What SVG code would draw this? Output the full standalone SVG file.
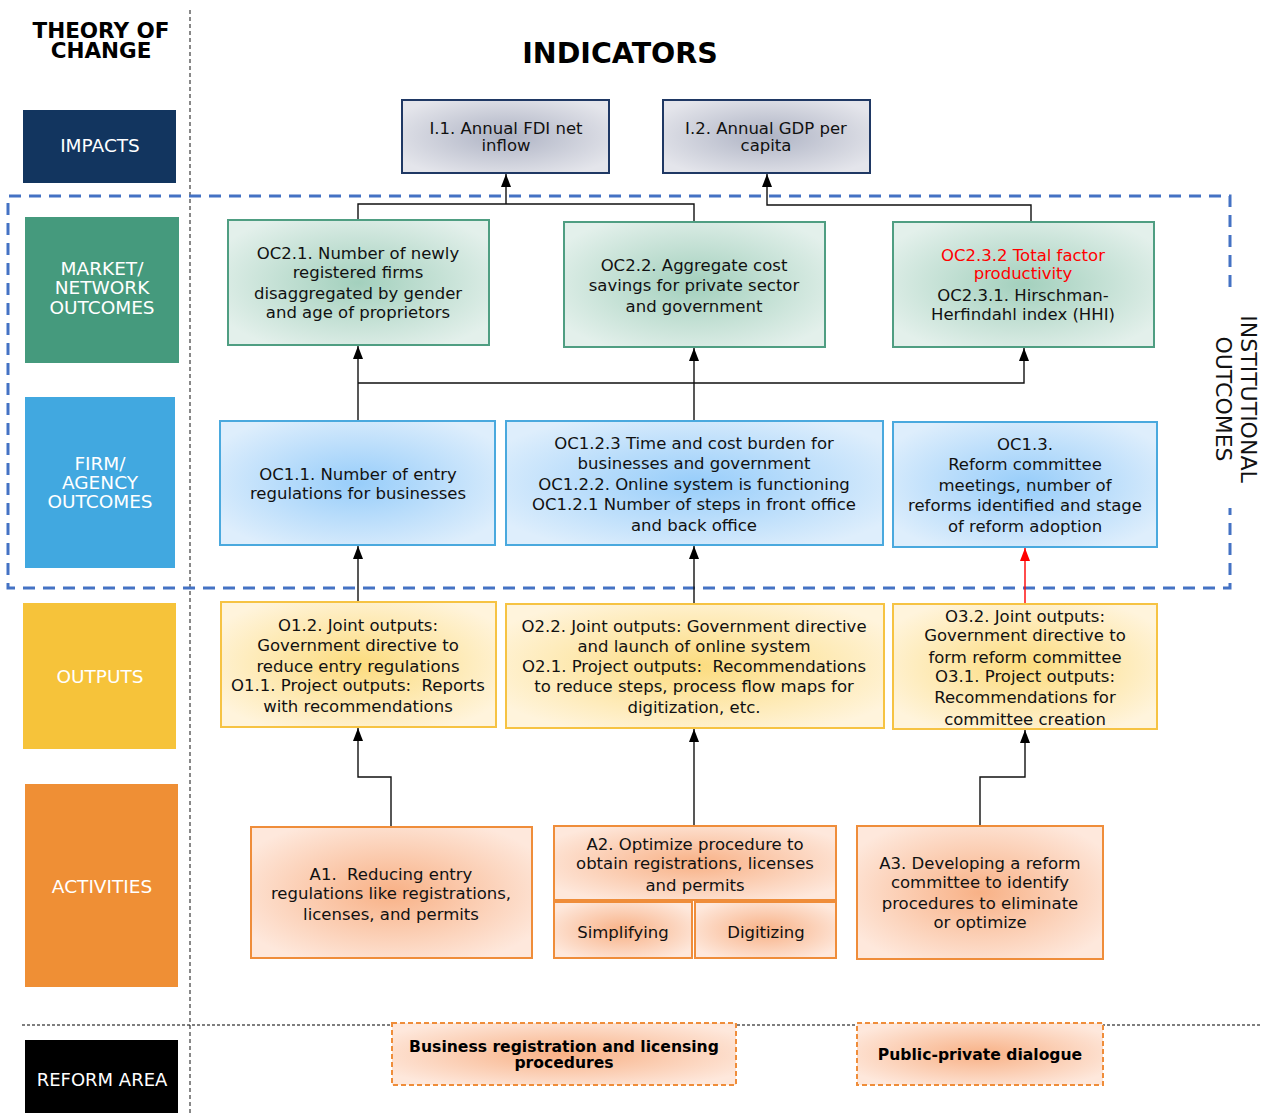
<svg xmlns="http://www.w3.org/2000/svg" width="1261" height="1113" viewBox="0 0 1261 1113">
  <style>
    .t { font-family: "DejaVu Sans", "Open Sans", sans-serif; font-size: 16.5px; fill: #111; text-anchor: middle; }
    .red { fill: #ff0000; }
    .side { font-family: "DejaVu Sans", "Open Sans", sans-serif; font-size: 22px; fill: #111; text-anchor: middle; }
    .lab { font-family: "DejaVu Sans", "Open Sans", sans-serif; font-size: 18.5px; fill: #fff; text-anchor: middle; }
    .hd { font-family: "DejaVu Sans", sans-serif; font-weight: bold; fill: #000; text-anchor: middle; }
    .ra { font-family: "DejaVu Sans", sans-serif; font-weight: bold; font-size: 15.6px; fill: #000; text-anchor: middle; }
    .gray { fill: url(#gGray); stroke: #1f3864; stroke-width: 2; }
    .green { fill: url(#gGreen); stroke: #4f9e82; stroke-width: 2; }
    .blue { fill: url(#gBlue); stroke: #4aa9de; stroke-width: 2; }
    .yellow { fill: url(#gYellow); stroke: #f6c343; stroke-width: 2; }
    .orange { fill: url(#gOrange); stroke: #ef8d3a; stroke-width: 2; }
    .orangeDash { fill: url(#gOrange); stroke: #ef8d3a; stroke-width: 2; stroke-dasharray: 5 3; }
    .conn { fill: none; stroke: #111; stroke-width: 1.4; }
  </style>
  <defs>
    <radialGradient id="gGray" cx="0.5" cy="0.5" r="0.6">
      <stop offset="0" stop-color="#aeb3c4"/>
      <stop offset="1" stop-color="#e4e5eb"/>
    </radialGradient>
    <radialGradient id="gGreen" cx="0.5" cy="0.5" r="0.6">
      <stop offset="0" stop-color="#a3d0bd"/>
      <stop offset="1" stop-color="#e3f0eb"/>
    </radialGradient>
    <radialGradient id="gBlue" cx="0.5" cy="0.5" r="0.6">
      <stop offset="0" stop-color="#97cdfa"/>
      <stop offset="1" stop-color="#deeefc"/>
    </radialGradient>
    <radialGradient id="gYellow" cx="0.5" cy="0.5" r="0.6">
      <stop offset="0" stop-color="#fcdc7e"/>
      <stop offset="1" stop-color="#fff4dc"/>
    </radialGradient>
    <radialGradient id="gOrange" cx="0.5" cy="0.5" r="0.6">
      <stop offset="0" stop-color="#f8b186"/>
      <stop offset="1" stop-color="#fee8dc"/>
    </radialGradient>
    <marker id="arr" viewBox="0 0 13 10" markerWidth="13" markerHeight="10" refX="13" refY="5" orient="auto" markerUnits="userSpaceOnUse">
      <path d="M0,0 L13,5 L0,10 z" fill="#000"/>
    </marker>
    <marker id="arrRed" viewBox="0 0 13 10" markerWidth="13" markerHeight="10" refX="13" refY="5" orient="auto" markerUnits="userSpaceOnUse">
      <path d="M0,0 L13,5 L0,10 z" fill="#ff0000"/>
    </marker>
  </defs>

  <rect width="1261" height="1113" fill="#fff"/>

  <!-- headings -->
  <text class="hd" font-size="21.5"><tspan x="101" y="38">THEORY OF</tspan><tspan x="101" y="58">CHANGE</tspan></text>
  <text class="hd" font-size="28.5" x="620" y="63">INDICATORS</text>

  <!-- separators -->
  <line x1="190" y1="10" x2="190" y2="1113" stroke="#888" stroke-width="2" stroke-dasharray="4 3"/>
  <line x1="22" y1="1025" x2="1261" y2="1025" stroke="#000" stroke-width="1.2" stroke-dasharray="3 2"/>

  <!-- institutional outcomes frame (open on the right for its label) -->
  <path d="M1230,287 L1230,196 L8,196 L8,588 L1230,588 L1230,508" fill="none" stroke="#4472c4" stroke-width="3" stroke-dasharray="12 8"/>
  <g id="institutional-label">
    <text class="side" transform="translate(1241,399) rotate(90)" x="0" y="0">INSTITUTIONAL</text>
    <text class="side" transform="translate(1216,399) rotate(90)" x="0" y="0">OUTCOMES</text>
  </g>

  <!-- level labels -->
  <g id="level-impacts">
    <rect x="23" y="110" width="153" height="73" fill="#12355f"/>
    <text class="lab" x="100" y="152">IMPACTS</text>
  </g>
  <g id="level-market">
    <rect x="25" y="217" width="154" height="146" fill="#459a7d"/>
    <text class="lab" x="102" y="275">MARKET/</text>
    <text class="lab" x="102" y="294">NETWORK</text>
    <text class="lab" x="102" y="314">OUTCOMES</text>
  </g>
  <g id="level-firm">
    <rect x="25" y="397" width="150" height="171" fill="#41a8e0"/>
    <text class="lab" x="100" y="470">FIRM/</text>
    <text class="lab" x="100" y="489">AGENCY</text>
    <text class="lab" x="100" y="508">OUTCOMES</text>
  </g>
  <g id="level-outputs">
    <rect x="23" y="603" width="153" height="146" fill="#f6c33a"/>
    <text class="lab" x="100" y="683">OUTPUTS</text>
  </g>
  <g id="level-activities">
    <rect x="25" y="784" width="153" height="203" fill="#ef8f35"/>
    <text class="lab" x="102" y="893">ACTIVITIES</text>
  </g>
  <g id="level-reform">
    <rect x="25" y="1040" width="153" height="73" fill="#000"/>
    <text class="lab" style="font-size:18px" x="102" y="1086">REFORM AREA</text>
  </g>

  <!-- connectors -->
  <g id="connectors">
    <path class="conn" d="M358,220 L358,204 L694,204 L694,222"/>
    <path class="conn" d="M506,204 L506,174" marker-end="url(#arr)"/>
    <path class="conn" d="M1031,222 L1031,205 L767,205 L767,174" marker-end="url(#arr)"/>
    <path class="conn" d="M358,421 L358,346" marker-end="url(#arr)"/>
    <path class="conn" d="M694,421 L694,348" marker-end="url(#arr)"/>
    <path class="conn" d="M358,383 L1024,383 L1024,348" marker-end="url(#arr)"/>
    <path class="conn" d="M358,602 L358,546" marker-end="url(#arr)"/>
    <path class="conn" d="M694,604 L694,546" marker-end="url(#arr)"/>
    <path fill="none" stroke="#ff0000" stroke-width="1.4" d="M1025,604 L1025,548" marker-end="url(#arrRed)"/>
    <path class="conn" d="M391,827 L391,777 L358,777 L358,728" marker-end="url(#arr)"/>
    <path class="conn" d="M694,826 L694,729" marker-end="url(#arr)"/>
    <path class="conn" d="M980,826 L980,777 L1025,777 L1025,730" marker-end="url(#arr)"/>
  </g>

  <!-- impacts -->
  <g id="I1">
    <rect class="gray" x="402" y="100" width="207" height="73"/>
    <text class="t" x="506" y="134">I.1. Annual FDI net</text>
    <text class="t" x="506" y="151">inflow</text>
  </g>
  <g id="I2">
    <rect class="gray" x="663" y="100" width="207" height="73"/>
    <text class="t" x="766" y="134">I.2. Annual GDP per</text>
    <text class="t" x="766" y="151">capita</text>
  </g>

  <!-- market / network outcomes -->
  <g id="OC2-1">
    <rect class="green" x="228" y="220" width="261" height="125"/>
    <text class="t" x="358" y="259">OC2.1. Number of newly</text>
    <text class="t" x="358" y="278">registered firms</text>
    <text class="t" x="358" y="299">disaggregated by gender</text>
    <text class="t" x="358" y="318">and age of proprietors</text>
  </g>
  <g id="OC2-2">
    <rect class="green" x="564" y="222" width="261" height="125"/>
    <text class="t" x="694" y="271">OC2.2. Aggregate cost</text>
    <text class="t" x="694" y="291">savings for private sector</text>
    <text class="t" x="694" y="312">and government</text>
  </g>
  <g id="OC2-3">
    <rect class="green" x="893" y="222" width="261" height="125"/>
    <text class="t red" x="1023" y="261">OC2.3.2 Total factor</text>
    <text class="t red" x="1023" y="279">productivity</text>
    <text class="t" x="1023" y="301">OC2.3.1. Hirschman-</text>
    <text class="t" x="1023" y="320">Herfindahl index (HHI)</text>
  </g>

  <!-- firm / agency outcomes -->
  <g id="OC1-1">
    <rect class="blue" x="220" y="421" width="275" height="124"/>
    <text class="t" x="358" y="480">OC1.1. Number of entry</text>
    <text class="t" x="358" y="499">regulations for businesses</text>
  </g>
  <g id="OC1-2">
    <rect class="blue" x="506" y="421" width="377" height="124"/>
    <text class="t" x="694" y="449">OC1.2.3 Time and cost burden for</text>
    <text class="t" x="694" y="469">businesses and government</text>
    <text class="t" x="694" y="490">OC1.2.2. Online system is functioning</text>
    <text class="t" x="694" y="510">OC1.2.1 Number of steps in front office</text>
    <text class="t" x="694" y="531">and back office</text>
  </g>
  <g id="OC1-3">
    <rect class="blue" x="893" y="422" width="264" height="125"/>
    <text class="t" x="1025" y="450">OC1.3.</text>
    <text class="t" x="1025" y="470">Reform committee</text>
    <text class="t" x="1025" y="491">meetings, number of</text>
    <text class="t" x="1025" y="511">reforms identified and stage</text>
    <text class="t" x="1025" y="532">of reform adoption</text>
  </g>

  <!-- outputs -->
  <g id="O1">
    <rect class="yellow" x="221" y="602" width="275" height="125"/>
    <text class="t" x="358" y="631">O1.2. Joint outputs:</text>
    <text class="t" x="358" y="651">Government directive to</text>
    <text class="t" x="358" y="672">reduce entry regulations</text>
    <text class="t" x="358" y="691" xml:space="preserve">O1.1. Project outputs:  Reports</text>
    <text class="t" x="358" y="712">with recommendations</text>
  </g>
  <g id="O2">
    <rect class="yellow" x="506" y="604" width="378" height="124"/>
    <text class="t" x="694" y="632">O2.2. Joint outputs: Government directive</text>
    <text class="t" x="694" y="652">and launch of online system</text>
    <text class="t" x="694" y="672" xml:space="preserve">O2.1. Project outputs:  Recommendations</text>
    <text class="t" x="694" y="692">to reduce steps, process flow maps for</text>
    <text class="t" x="694" y="713">digitization, etc.</text>
  </g>
  <g id="O3">
    <rect class="yellow" x="893" y="604" width="264" height="125"/>
    <text class="t" x="1025" y="622">O3.2. Joint outputs:</text>
    <text class="t" x="1025" y="641">Government directive to</text>
    <text class="t" x="1025" y="663">form reform committee</text>
    <text class="t" x="1025" y="682">O3.1. Project outputs:</text>
    <text class="t" x="1025" y="703">Recommendations for</text>
    <text class="t" x="1025" y="725">committee creation</text>
  </g>

  <!-- activities -->
  <g id="A1">
    <rect class="orange" x="251" y="827" width="281" height="131"/>
    <text class="t" x="391" y="880" xml:space="preserve">A1.  Reducing entry</text>
    <text class="t" x="391" y="899">regulations like registrations,</text>
    <text class="t" x="391" y="920">licenses, and permits</text>
  </g>
  <g id="A2">
    <rect class="orange" x="554" y="826" width="282" height="74"/>
    <text class="t" x="695" y="850">A2. Optimize procedure to</text>
    <text class="t" x="695" y="869">obtain registrations, licenses</text>
    <text class="t" x="695" y="891">and permits</text>
  </g>
  <g id="A2-simplifying">
    <rect class="orange" x="554" y="902" width="138" height="56"/>
    <text class="t" x="623" y="938">Simplifying</text>
  </g>
  <g id="A2-digitizing">
    <rect class="orange" x="695" y="902" width="141" height="56"/>
    <text class="t" x="766" y="938">Digitizing</text>
  </g>
  <g id="A3">
    <rect class="orange" x="857" y="826" width="246" height="133"/>
    <text class="t" x="980" y="869">A3. Developing a reform</text>
    <text class="t" x="980" y="888">committee to identify</text>
    <text class="t" x="980" y="909">procedures to eliminate</text>
    <text class="t" x="980" y="928">or optimize</text>
  </g>

  <!-- reform areas -->
  <g id="RA-business">
    <rect class="orangeDash" x="392" y="1023" width="344" height="62"/>
    <text class="ra" x="564" y="1052">Business registration and licensing</text>
    <text class="ra" x="564" y="1068">procedures</text>
  </g>
  <g id="RA-ppd">
    <rect class="orangeDash" x="857" y="1023" width="246" height="62"/>
    <text class="ra" x="980" y="1060">Public-private dialogue</text>
  </g>
</svg>
